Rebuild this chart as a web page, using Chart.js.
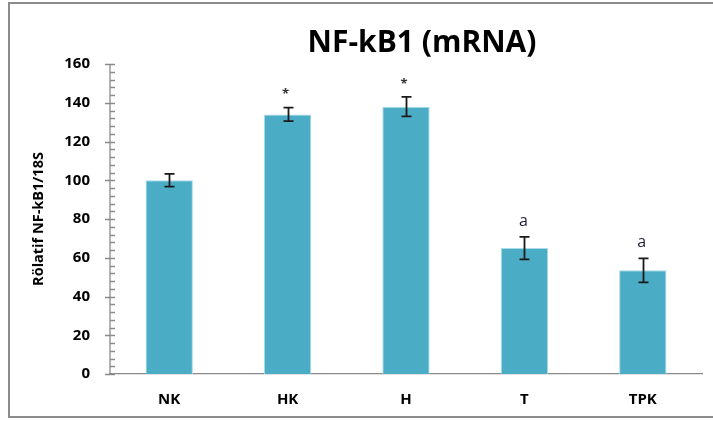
<!DOCTYPE html>
<html>
<head>
<meta charset="utf-8">
<script src="https://cdn.jsdelivr.net/npm/chart.js@4/dist/chart.umd.min.js"></script>
<style>
  html, body { margin: 0; padding: 0; background: #ffffff; }
  #wrap { position: relative; width: 713px; height: 421px; }
</style>
</head>
<body>
<div id="wrap"><canvas id="c" width="713" height="421"></canvas></div>
<script>
// Groups and measured NF-kB1 expression (relative to 18S)
const groups = ['NK', 'HK', 'H', 'T', 'TPK'];
const expression = [100, 134, 138, 65, 53.5];
const errorBars = [3.3, 3.5, 5, 5.8, 6.2];
const significance = ['', '*', '*', 'a', 'a'];
const yTicks = [0, 20, 40, 60, 80, 100, 120, 140, 160];

const FONT = '"Open Sans", "DejaVu Sans", sans-serif';
const AXIS_GRAY = '#8a8a8a';

// Outer frame, title, y-axis ticks, error bars and significance marks
const decorations = {
  id: 'decorations',
  beforeDraw(chart) {
    const ctx = chart.ctx;
    ctx.save();
    ctx.fillStyle = '#ffffff';
    ctx.fillRect(0, 0, chart.width, chart.height);
    ctx.strokeStyle = '#8c8c8c';
    ctx.lineWidth = 2;
    ctx.strokeRect(9, 3, chart.width + 10, 414);
    ctx.restore();
  },
  afterDraw(chart) {
    const ctx = chart.ctx;
    const y = chart.scales.y;
    const area = chart.chartArea;
    ctx.save();

    // title
    ctx.fillStyle = '#000000';
    ctx.font = 'bold 30px ' + FONT;
    ctx.textAlign = 'center';
    ctx.textBaseline = 'alphabetic';
    ctx.fillText('NF-kB1 (mRNA)', 422, 52);

    // y-axis line with crossing major ticks and inside minor ticks
    ctx.strokeStyle = AXIS_GRAY;
    ctx.lineWidth = 1.3;
    ctx.beginPath();
    ctx.moveTo(area.left, y.getPixelForValue(y.max));
    ctx.lineTo(area.left, y.getPixelForValue(0));
    for (let v = 0; v <= y.max; v += 4) {
      const py = Math.round(y.getPixelForValue(v)) + 0.5;
      const major = v % 20 === 0;
      ctx.moveTo(area.left + (major ? -5 : 0), py);
      ctx.lineTo(area.left + 5, py);
    }
    ctx.stroke();

    // error bars
    const meta = chart.getDatasetMeta(0);
    ctx.strokeStyle = '#1a1a1a';
    ctx.lineWidth = 1.8;
    meta.data.forEach((bar, i) => {
      const x = Math.round(bar.x) + 0.5;
      const top = y.getPixelForValue(expression[i] + errorBars[i]);
      const bot = y.getPixelForValue(expression[i] - errorBars[i]);
      ctx.beginPath();
      ctx.moveTo(x, top); ctx.lineTo(x, bot);
      ctx.moveTo(x - 5, top); ctx.lineTo(x + 5, top);
      ctx.moveTo(x - 5, bot); ctx.lineTo(x + 5, bot);
      ctx.stroke();
    });

    // significance marks
    ctx.textAlign = 'center';
    meta.data.forEach((bar, i) => {
      const mark = significance[i];
      if (!mark) return;
      const top = y.getPixelForValue(expression[i] + errorBars[i]);
      if (mark === '*') {
        ctx.fillStyle = '#333333';
        ctx.font = 'bold 13px ' + FONT;
        ctx.textBaseline = 'middle';
        ctx.fillText(mark, bar.x - 2, top - 13);
      } else {
        ctx.fillStyle = '#1f1f3a';
        ctx.font = '16px ' + FONT;
        ctx.textBaseline = 'alphabetic';
        ctx.fillText(mark, bar.x - 1, top - 11);
      }
    });
    ctx.restore();
  }
};

new Chart(document.getElementById('c'), {
  type: 'bar',
  data: {
    labels: groups,
    datasets: [{
      data: expression,
      backgroundColor: '#4bacc6',
      borderColor: '#a9dbe8',
      borderWidth: 1,
      barPercentage: 0.4,
      categoryPercentage: 1.0
    }]
  },
  options: {
    responsive: false,
    animation: false,
    devicePixelRatio: 1,
    layout: { padding: { top: 64, right: 11, left: 0, bottom: 0 } },
    plugins: {
      legend: { display: false },
      tooltip: { enabled: false },
      title: { display: false }
    },
    scales: {
      x: {
        grid: { display: false, drawTicks: false },
        border: { display: true, color: AXIS_GRAY, width: 1.3 },
        ticks: {
          color: '#000000',
          padding: 17,
          font: { family: FONT, size: 15, weight: 'bold' }
        },
        afterFit(scale) { scale.height = 47; }
      },
      y: {
        min: 0,
        max: 160,
        afterBuildTicks(scale) { scale.ticks = yTicks.map(v => ({ value: v })); },
        grid: { display: false, drawTicks: false },
        border: { display: false },
        ticks: {
          color: '#000000',
          padding: 20,
          font: { family: FONT, size: 15, weight: 'bold' }
        },
        title: {
          display: true,
          text: 'Rölatif NF-kB1/18S',
          color: '#000000',
          padding: { top: 30, bottom: 0 },
          font: { family: FONT, size: 14.5, weight: 'bold' }
        },
        afterFit(scale) { scale.width = 110; }
      }
    }
  },
  plugins: [decorations]
});
</script>
</body>
</html>
